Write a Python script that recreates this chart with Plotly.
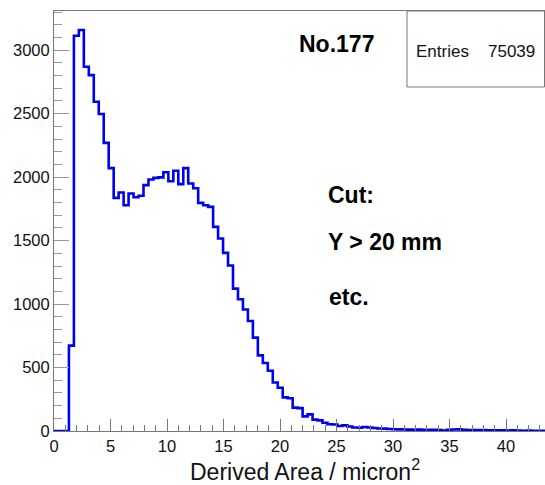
import numpy as np
import plotly.graph_objects as go

# Histogram definition: 100 bins of width 0.44 starting at 0
bin_width = 0.44
bin_counts = [
    0, 0, 0, 673, 3114, 3159, 2870, 2804, 2594, 2497,
    2270, 2071, 1837, 1879, 1779, 1871, 1842, 1854, 1937, 1982,
    1994, 1998, 2038, 1968, 2050, 1945, 2071, 1950, 1913, 1797,
    1779, 1766, 1608, 1517, 1403, 1304, 1122, 1038, 957, 867,
    736, 596, 536, 475, 382, 341, 265, 258, 184, 180,
    115, 131, 90, 84, 65, 53, 51, 39, 44, 36,
    27, 26, 31, 27, 24, 20, 19, 16, 14, 13,
    12, 11, 10, 11, 9, 10, 9, 8, 3, 9,
    12, 13, 9, 8, 8, 7, 7, 6, 5, 5,
    6, 4, 5, 3, 2, 3, 2, 2, 2, 1,
]
x_ticks = [0, 5, 10, 15, 20, 25, 30, 35, 40]
y_ticks = [0, 500, 1000, 1500, 2000, 2500, 3000]
title_text = "No.177"
cut_lines = ["Cut:", "Y > 20 mm", "etc."]
entries_label = "Entries"
entries_value = "75039"
x_title = "Derived Area / micron<sup>2</sup>"

edges = np.arange(len(bin_counts) + 1) * bin_width
xs = list(edges)
ys = list(bin_counts) + [bin_counts[-1]]

W, H = 545, 485
L, R, T, B = 54, 0, 11, 54
pw, ph = W - L - R, H - T - B


def px(p):
    return (p - L) / pw


def py(p):
    return (H - B - p) / ph


FONT = "Liberation Sans, Arial, sans-serif"

fig = go.Figure()
fig.add_trace(go.Scatter(
    x=xs, y=ys, mode="lines", line=dict(color="#0000f0", width=2.6, shape="hv"),
    hoverinfo="skip", showlegend=False,
))

fig.update_layout(
    width=W, height=H,
    margin=dict(l=L, r=R, t=T, b=B),
    paper_bgcolor="white", plot_bgcolor="white",
    font=dict(family=FONT, color="#111", size=16),
    showlegend=False,
)
fig.update_xaxes(
    range=[0, 43.45], showgrid=False, zeroline=False,
    showline=True, linecolor="#777", linewidth=1, mirror=True,
    tickmode="array", tickvals=x_ticks, ticktext=[str(v) for v in x_ticks],
    ticks="inside", ticklen=12, tickcolor="#777", tickwidth=1,
    minor=dict(ticks="inside", dtick=1, ticklen=6, tickcolor="#777", tickwidth=1),
    tickfont=dict(size=16.5, family=FONT, color="#111"),
)
fig.update_yaxes(
    range=[0, 3309], showgrid=False, zeroline=False,
    showline=True, linecolor="#777", linewidth=1, mirror=False,
    tickmode="array", tickvals=y_ticks, ticktext=[str(v) for v in y_ticks],
    ticks="inside", ticklen=15, tickcolor="#999", tickwidth=1,
    minor=dict(ticks="inside", dtick=100, ticklen=8, tickcolor="#999", tickwidth=1),
    tickfont=dict(size=16.5, family=FONT, color="#111"),
)

# stats box
fig.add_shape(type="rect", xref="paper", yref="paper",
              x0=px(407), x1=px(544.5), y0=py(87), y1=py(11),
              line=dict(color="#777", width=1), fillcolor="white", layer="above")

anns = []
anns.append(dict(text=entries_label, x=px(414), y=py(51), xanchor="left", yanchor="middle",
                 font=dict(size=17, family=FONT, color="#111")))
anns.append(dict(text=entries_value, x=px(537), y=py(51), xanchor="right", yanchor="middle",
                 font=dict(size=17, family=FONT, color="#111")))
anns.append(dict(text="<b>%s</b>" % title_text, x=px(297), y=py(44), xanchor="left", yanchor="middle",
                 font=dict(size=23, family=FONT, color="#000")))
cut_pos = [(326, 195), (326, 242), (327, 297)]
for t, (cx, cy) in zip(cut_lines, cut_pos):
    anns.append(dict(text="<b>%s</b>" % t, x=px(cx), y=py(cy), xanchor="left", yanchor="middle",
                     font=dict(size=23, family=FONT, color="#000")))
anns.append(dict(text=x_title, x=px(422), y=py(470), xanchor="right", yanchor="middle",
                 font=dict(size=23, family=FONT, color="#111")))
for a in anns:
    a.update(xref="paper", yref="paper", showarrow=False)
fig.update_layout(annotations=anns)

fig.write_html("out.html")
